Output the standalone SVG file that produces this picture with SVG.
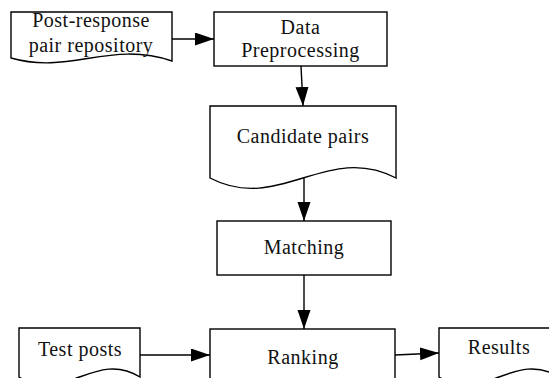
<svg xmlns="http://www.w3.org/2000/svg" width="549" height="378" viewBox="0 0 549 378">
<style>
.box{fill:#fff;stroke:#000;stroke-width:1.4}
.lbl{font-family:"Liberation Serif","Times New Roman",serif;font-size:20px;letter-spacing:0.5px;fill:#111;text-anchor:middle}
.edge{fill:none;stroke:#000;stroke-width:1.4}
</style>
<defs>
<marker id="ah" markerUnits="userSpaceOnUse" markerWidth="20" markerHeight="14" refX="19" refY="6.5" orient="auto">
<polygon points="0,0 19,6.5 0,13" fill="#000"/>
</marker>
</defs>
<rect width="549" height="378" fill="#fff"/>
<g id="post-response">
<path class="box" d="M11,12 H172 V61 C110,40 70,75 11,58 Z"/>
<text class="lbl" x="91" y="27">Post-response</text>
<text class="lbl" x="91" y="52">pair repository</text>
</g>
<g id="preprocessing">
<rect class="box" x="214" y="12" width="173" height="54"/>
<text class="lbl" x="300.5" y="34">Data</text>
<text class="lbl" x="300.5" y="57">Preprocessing</text>
</g>
<g id="candidate">
<path class="box" d="M210,106 H396 V178 C327,142 279,214 210,178 Z"/>
<text class="lbl" x="303" y="143">Candidate pairs</text>
</g>
<g id="matching">
<rect class="box" x="217" y="221" width="174" height="54"/>
<text class="lbl" x="304" y="254">Matching</text>
</g>
<g id="ranking">
<rect class="box" x="210" y="329" width="185" height="60"/>
<text class="lbl" x="303" y="364">Ranking</text>
</g>
<g id="test-posts">
<path class="box" d="M19,328 H140 V377 C95,349 64,405 19,377 Z"/>
<text class="lbl" x="80" y="356">Test posts</text>
</g>
<g id="results">
<path class="box" d="M439,328 H559 V377 C514,349 484,405 439,377 Z"/>
<text class="lbl" x="499" y="354">Results</text>
</g>
<g id="connectors">
<line class="edge" x1="172" y1="39" x2="214" y2="39" marker-end="url(#ah)"/>
<line class="edge" x1="301" y1="66" x2="303" y2="106" marker-end="url(#ah)"/>
<line class="edge" x1="304" y1="178" x2="304" y2="221" marker-end="url(#ah)"/>
<line class="edge" x1="304" y1="275" x2="304" y2="329" marker-end="url(#ah)"/>
<line class="edge" x1="140" y1="355" x2="210" y2="355" marker-end="url(#ah)"/>
<line class="edge" x1="395" y1="355" x2="439" y2="353" marker-end="url(#ah)"/>
</g>
</svg>
